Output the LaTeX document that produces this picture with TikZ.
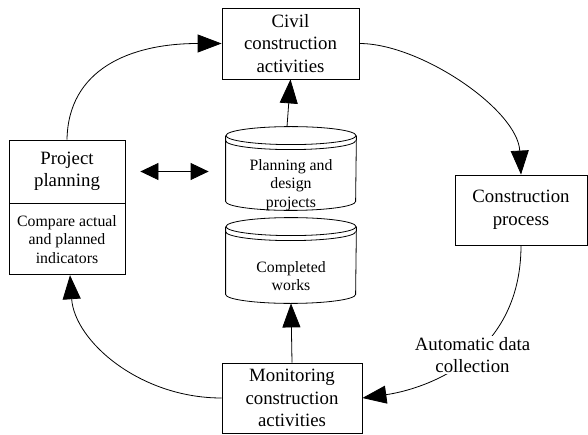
\documentclass[tikz,border=0pt]{standalone}
\usepackage{fontspec}
\setmainfont{Liberation Serif}
\usetikzlibrary{arrows.meta,positioning}

\newcommand{\boxfont}{\fontsize{18.8}{22.5}\selectfont}
\newcommand{\notefont}{\fontsize{15.8}{18.5}\selectfont}

\tikzset{
  box/.style={draw, rectangle, inner sep=0pt, align=center, font=\boxfont},
  store/.style={rectangle, inner sep=0pt, minimum width=130pt},
  storetext/.style={align=center, inner sep=0pt, font=\notefont},
  flow/.style={-{Triangle[length=24pt,width=18pt]}},
}

\begin{document}
\begin{tikzpicture}[x=1pt,y=1pt,line width=0.8pt]
\useasboundingbox (0,0) rectangle (588,434);

% boxes
\node[box, minimum width=137pt, minimum height=71pt] (civil) at (290.5,390.5) {Civil\\construction\\activities};
\node[box, minimum width=116pt, minimum height=63pt] (plan) at (67,262.5) {Project\\planning};
\node[box, font=\notefont, minimum width=116pt, minimum height=71pt, below=0pt of plan] (cmp) {Compare actual\\and planned\\indicators};
\node[box, minimum width=132pt, minimum height=70pt] (cons) at (521,224) {Construction\\process};
\node[box, minimum width=140pt, minimum height=70pt] (mon) at (292,36) {Monitoring\\construction\\activities};

% data stores
\node[store, minimum height=83pt] (db1) at (291,265.5) {};
\node[store, minimum height=85pt] (db2) at (291,173.5) {};

\draw ([yshift=-9pt]db1.north) ellipse [x radius=65pt, y radius=9pt];
\draw ([yshift=-9pt]db1.north west) -- ([yshift=9pt]db1.south west)
  arc[start angle=180, end angle=360, x radius=65pt, y radius=9pt] -- ([yshift=-9pt]db1.north east);
\draw ([yshift=-14pt]db1.north west) arc[start angle=180, end angle=360, x radius=65pt, y radius=9pt];

\draw ([yshift=-9pt]db2.north) ellipse [x radius=65pt, y radius=9pt];
\draw ([yshift=-9pt]db2.north west) -- ([yshift=9pt]db2.south west)
  arc[start angle=180, end angle=360, x radius=65pt, y radius=9pt] -- ([yshift=-9pt]db2.north east);
\draw ([yshift=-14pt]db2.north west) arc[start angle=180, end angle=360, x radius=65pt, y radius=9pt];

\node[storetext] (db1txt) at (291,249) {Planning and\\design\\projects};
\node[storetext] (db2txt) at (291,158) {Completed\\works};

% cycle
\draw[flow] (plan.north) to[out=89, in=180, out distance=70pt, in distance=92pt] (civil.west);
\draw[flow] (civil.east) to[out=0, in=93, out distance=61pt, in distance=65pt] (cons.north);
\draw[flow] (cons.south) to[out=-90, in=8, out distance=115pt, in distance=58pt] (mon.east);
\draw[flow] (mon.west) to[out=180, in=-86, out distance=82pt, in distance=66pt] ([xshift=3pt]cmp.south);

\node[fill=white, inner sep=1pt, align=center, font=\boxfont] (auto) at (472.5,79) {Automatic data\\collection};

% stores
\draw[flow] ([xshift=-4pt]db1.north) -- (civil.south);
\draw[flow] (mon.north) -- (db2.south);
\draw[{Triangle[length=18pt,width=17pt]}-{Triangle[length=18pt,width=17pt]}] ([xshift=15pt]plan.east) -- ([xshift=-17pt]plan.east -| db1.west);
\end{tikzpicture}
\end{document}
